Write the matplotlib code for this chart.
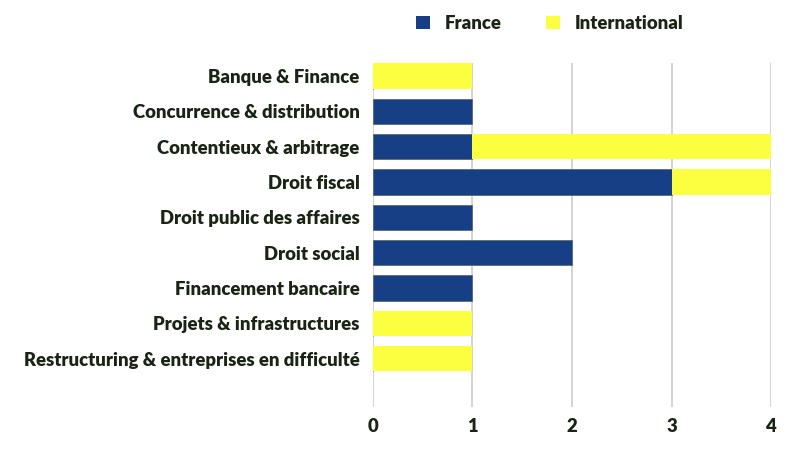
import numpy as np
import matplotlib.pyplot as plt
from matplotlib.patches import Patch

# Data
categories = ['Banque & Finance', 'Concurrence & distribution', 'Contentieux & arbitrage',
              'Droit fiscal', 'Droit public des affaires', 'Droit social',
              'Financement bancaire', 'Projets & infrastructures',
              'Restructuring & entreprises en difficulté']
france = [0, 1, 1, 3, 1, 2, 1, 0, 0]
international = [1, 0, 3, 1, 0, 0, 0, 1, 1]
xticks = [0, 1, 2, 3, 4]

blue = '#173f86'
yellow = '#fbff3f'
text_color = '#1a2414'

plt.rcParams['font.family'] = ['Lato', 'DejaVu Sans']
plt.rcParams['font.weight'] = 'heavy'

fig = plt.figure(figsize=(8, 4.5), dpi=100)
ax = fig.add_axes([0.466, 0.0956, 0.498, 0.764])

y = np.arange(len(categories))
ax.barh(y, france, height=0.72, color=blue, edgecolor='#5a6a6a', linewidth=0.6, zorder=3)
ax.barh(y, international, left=france, height=0.72, color=yellow, linewidth=0, zorder=3)

ax.set_xlim(0, 4)
ax.set_ylim(9.37, -0.36)
ax.set_xticks(xticks)
ax.set_yticks(y)
ax.set_yticklabels(categories)
ax.grid(axis='x', color='#cccccc', linewidth=1.2, zorder=0)
for s in ax.spines.values():
    s.set_visible(False)
ax.tick_params(axis='both', length=0, labelsize=13.3, labelcolor=text_color)
ax.tick_params(axis='y', pad=9.5)
ax.tick_params(axis='x', pad=8)

handles = [Patch(facecolor=blue, label='France'), Patch(facecolor=yellow, label='International')]
fig.legend(handles=handles, loc='center', bbox_to_anchor=(0.6875, 0.948), ncol=2, frameon=False,
           fontsize=13.3, labelcolor=text_color, handlelength=0.75, handleheight=0.75,
           handletextpad=0.8, columnspacing=2.4)

fig.savefig('out.png', dpi=100)
